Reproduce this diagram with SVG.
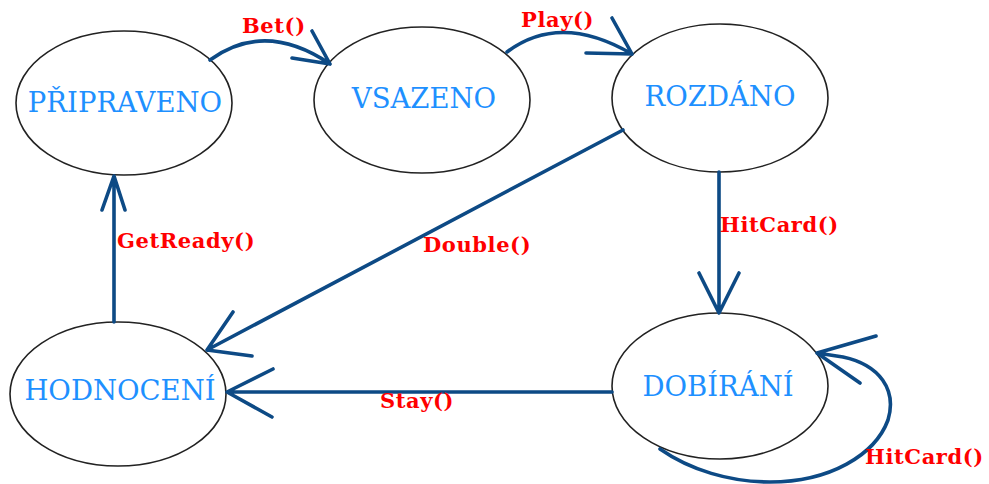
<svg xmlns="http://www.w3.org/2000/svg" width="989" height="484" viewBox="0 0 989 484">
<style>
.st{fill:#fff;stroke:#222;stroke-width:1.6}
.nt{font-family:"DejaVu Serif","Liberation Serif",serif;font-size:27.5px;fill:#1e90ff;text-anchor:middle}
.lb{font-family:"DejaVu Serif","Liberation Serif",serif;font-size:21px;letter-spacing:0.6px;font-weight:bold;fill:#ff0000}
.cn{fill:none;stroke:#0d4a85;stroke-width:3.6;stroke-linecap:round;stroke-linejoin:round}
</style>
<rect width="989" height="484" fill="#fff"/>
<g id="node-pripraveno"><ellipse class="st" cx="124" cy="103" rx="108" ry="72"/><text class="nt" x="125" y="112">PŘIPRAVENO</text></g>
<g id="node-vsazeno"><ellipse class="st" cx="422" cy="100" rx="108" ry="73"/><text class="nt" x="424" y="108">VSAZENO</text></g>
<g id="node-rozdano"><ellipse class="st" cx="720" cy="98" rx="108" ry="74"/><text class="nt" x="720" y="106">ROZDÁNO</text></g>
<g id="node-hodnoceni"><ellipse class="st" cx="118" cy="394" rx="108" ry="72"/><text class="nt" x="120" y="400">HODNOCENÍ</text></g>
<g id="node-dobirani"><ellipse class="st" cx="720" cy="386" rx="108" ry="73"/><text class="nt" x="718" y="396">DOBÍRÁNÍ</text></g>
<g id="connectors">
<path class="cn" d="M210,60 Q265,20 330,64 M312,31 L330,64 L292,58"/>
<path class="cn" d="M507,52 Q560,12 632,54 M612,18 L632,54 L586,53"/>
<path class="cn" d="M114,322 L114,176 M102,210 L114,176 L125,210"/>
<path class="cn" d="M623,130 L207,350 M233,312 L207,350 L252,356"/>
<path class="cn" d="M612,392 L227,392 M273,369 L227,392 L272,417"/>
<path class="cn" d="M719,172 L719,313 M699,273 L719,313 L739,273"/>
<path class="cn" d="M660,449 C690,470 730,482 770,482 C830,482 875,455 888,420 C897,390 880,365 843,357 L817,353 M876,336 L817,353 L860,383"/>
</g>
<g id="labels">
<text class="lb" x="242" y="33">Bet()</text>
<text class="lb" x="521" y="27">Play()</text>
<text class="lb" x="117" y="248">GetReady()</text>
<text class="lb" x="423" y="252">Double()</text>
<text class="lb" x="720" y="232">HitCard()</text>
<text class="lb" x="865" y="464">HitCard()</text>
<text class="lb" x="380" y="408">Stay()</text>
</g>
</svg>
